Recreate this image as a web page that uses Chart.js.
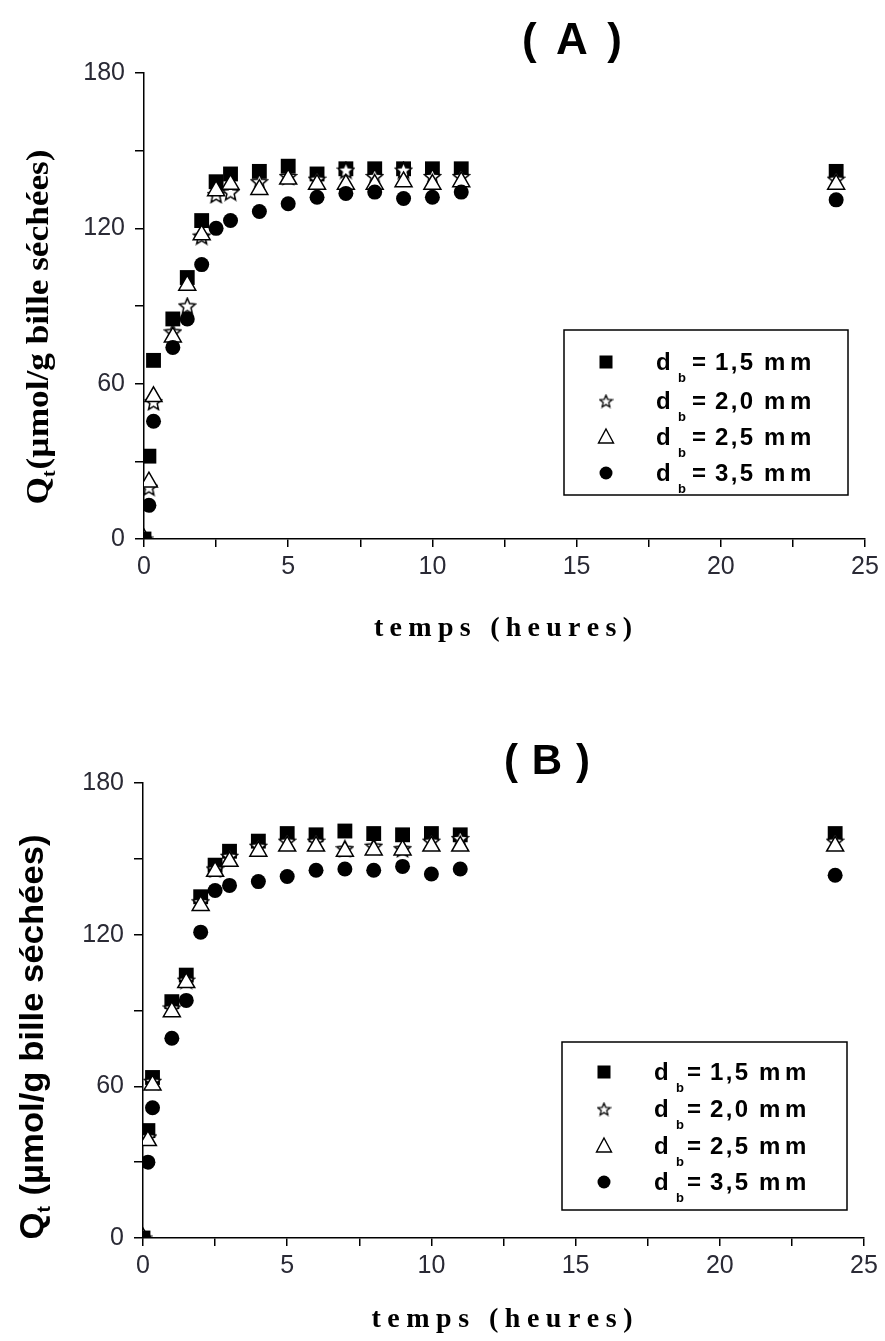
<!DOCTYPE html>
<html>
<head>
<meta charset="utf-8">
<script src="https://cdn.jsdelivr.net/npm/chart.js@4.4.0/dist/chart.umd.min.js"></script>
<style>
  html, body { margin: 0; padding: 0; background: #fff; }
  canvas { position: absolute; left: 0; }
  #chartA { top: 0; }
  #chartB { top: 690px; }
</style>
</head>
<body>
<canvas id="chartA" width="885" height="670"></canvas>
<canvas id="chartB" width="885" height="651"></canvas>
<script>
// temps (heures)
var temps = [0, 0.17, 0.33, 1, 1.5, 2, 2.5, 3, 4, 5, 6, 7, 8, 9, 10, 11, 24];

// panneau (A)
var a_d15 = [0, 32, 69, 85, 101, 123, 138, 141, 142, 144, 141, 143, 143, 143, 143, 143, 142];
var a_d20 = [0, 20, 53, 80, 90, 117, 133, 134, 138, 140, 139, 142.5, 140, 142.5, 140, 140, 139];
var a_d25 = [0, 22, 55, 78, 98, 117.5, 134.5, 137, 135, 139, 137, 137, 137, 138, 137, 138, 137];
var a_d35 = [0, 13, 45.5, 74, 85, 106, 120, 123, 126.5, 129.5, 132, 133.5, 134, 131.5, 132, 134, 131];

// panneau (B)
var b_d15 = [0, 42.5, 63.5, 93.5, 104, 135, 147.5, 153, 157, 160, 159.5, 161, 160, 159.5, 160, 159.5, 160];
var b_d20 = [0, 40, 62, 91, 102, 133, 146, 151, 155, 157, 157, 154, 155, 154, 157, 158, 157];
var b_d25 = [0, 38.5, 60.5, 89.5, 101, 131.5, 145, 149, 153, 155, 155, 153, 153.5, 153.5, 155, 155, 155];
var b_d35 = [0, 30, 51.5, 79, 94, 121, 137.5, 139.5, 141, 143, 145.5, 146, 145.5, 147, 144, 146, 143.5];

var diametres = ['1,5', '2,0', '2,5', '3,5'];
var xTickLabels = [0, 5, 10, 15, 20, 25];
var yTickLabels = [0, 60, 120, 180];

function makeStar(size, lw) {
  var c = document.createElement('canvas');
  c.width = size; c.height = size;
  var g = c.getContext('2d');
  var cx = size / 2, cy = size / 2 + 0.7, R = size / 2 - 1, r = R * 0.45;
  g.beginPath();
  for (var i = 0; i < 10; i++) {
    var ang = -Math.PI / 2 + i * Math.PI / 5;
    var rad = i % 2 === 0 ? R : r;
    g.lineTo(cx + rad * Math.cos(ang), cy + rad * Math.sin(ang));
  }
  g.closePath();
  g.fillStyle = '#fff'; g.fill();
  g.lineWidth = lw; g.strokeStyle = '#000'; g.stroke();
  return c;
}
var starBig = makeStar(19, 1.5);
var starSmall = makeStar(15, 1.3);

function pts(vals) {
  return temps.map(function(t, i) { return { x: t, y: vals[i] }; });
}

function makeDatasets(v15, v20, v25, v35) {
  return [
    { label: '1,5', data: pts(v15), pointStyle: 'rect', pointRadius: 10.5, backgroundColor: '#000', borderColor: '#000', borderWidth: 0, order: 4 },
    { label: '2,0', data: pts(v20), pointStyle: starBig, pointRadius: 9, backgroundColor: '#fff', borderColor: '#000', borderWidth: 0, order: 3 },
    { label: '2,5', data: pts(v25), pointStyle: 'triangle', pointRadius: 9.8, backgroundColor: '#fff', borderColor: '#000', borderWidth: 1.5, order: 2 },
    { label: '3,5', data: pts(v35), pointStyle: 'circle', pointRadius: 7.5, backgroundColor: '#000', borderColor: '#000', borderWidth: 0, order: 1 }
  ].map(function(d) { d.showLine = false; d.clip = 0; d.pointHoverRadius = d.pointRadius; return d; });
}

// texte avec espacement reparti sur une largeur donnee
function spaced(ctx, str, cx, y, width) {
  var chars = Array.from(str);
  var ws = chars.map(function(c) { return ctx.measureText(c).width; });
  var nat = ws.reduce(function(a, b) { return a + b; }, 0);
  var extra = chars.length > 1 ? (width - nat) / (chars.length - 1) : 0;
  var x = cx - width / 2;
  ctx.textAlign = 'left';
  chars.forEach(function(c, i) { ctx.fillText(c, x, y); x += ws[i] + extra; });
}

function legendMarker(ctx, k, x, y) {
  ctx.fillStyle = '#000'; ctx.strokeStyle = '#000';
  if (k === 0) {
    ctx.fillRect(x - 6.5, y - 6.5, 13, 13);
  } else if (k === 1) {
    ctx.drawImage(starSmall, x - 7.5, y - 7.5);
  } else if (k === 2) {
    ctx.beginPath();
    ctx.moveTo(x, y - 8); ctx.lineTo(x + 7.5, y + 6); ctx.lineTo(x - 7.5, y + 6); ctx.closePath();
    ctx.fillStyle = '#fff'; ctx.fill(); ctx.lineWidth = 1.4; ctx.stroke();
  } else {
    ctx.beginPath(); ctx.arc(x, y, 6.5, 0, Math.PI * 2); ctx.fill();
  }
}

var decor = {
  id: 'decor',
  afterDraw: function(chart, args, o) {
    var ctx = chart.ctx;
    ctx.save();
    ctx.fillStyle = '#000';

    // titre du panneau
    ctx.font = 'bold ' + o.titleSize + 'px "Liberation Sans", Arial, sans-serif';
    ctx.textBaseline = 'middle';
    spaced(ctx, o.title, o.titleX, o.titleY, o.titleW);

    // titre axe x
    ctx.font = 'bold 28px "Liberation Serif", "Times New Roman", serif';
    ctx.textBaseline = 'alphabetic';
    spaced(ctx, 'temps (heures)', o.xtX, o.xtY, o.xtW);

    // titre axe y (Q indice t)
    var fam = o.ySerif ? '"Liberation Serif", "Times New Roman", serif' : '"Liberation Sans", Arial, sans-serif';
    var big = 'bold ' + o.ySize + 'px ' + fam;
    var small = 'bold ' + Math.round(o.ySize * 0.55) + 'px ' + fam;
    ctx.font = big; var w1 = ctx.measureText('Q').width; var w3 = ctx.measureText(o.yRest).width;
    ctx.font = small; var w2 = ctx.measureText('t').width + 1;
    var nat = w1 + w2 + w3;
    ctx.save();
    ctx.translate(o.ytX, o.ytY);
    ctx.rotate(-Math.PI / 2);
    ctx.scale(o.ytL / nat, 1);
    ctx.textAlign = 'left';
    var x0 = -nat / 2;
    ctx.font = big; ctx.fillText('Q', x0, 0);
    ctx.font = small; ctx.fillText('t', x0 + w1, o.ySize * 0.22);
    ctx.font = big; ctx.fillText(o.yRest, x0 + w1 + w2, 0);
    ctx.restore();

    // legende
    var L = o.legend;
    ctx.lineWidth = 1.5; ctx.strokeStyle = '#000';
    ctx.strokeRect(L.x, L.y, L.w, L.h);
    for (var k = 0; k < diametres.length; k++) {
      var ry = L.y + L.rows[k];
      legendMarker(ctx, k, L.x + 42, ry);
      ctx.fillStyle = '#000';
      ctx.textAlign = 'left';
      ctx.font = 'bold 24px "Liberation Sans", Arial, sans-serif';
      var bl = ry + 8;
      ctx.fillText('d', L.x + 92, bl);
      ctx.fillText('=', L.x + L.eq, bl);
      spaced(ctx, diametres[k], L.x + L.eq + 42, bl, 38);
      ctx.fillText('m', L.x + L.eq + 72, bl);
      ctx.fillText('m', L.x + L.eq + 98, bl);
      ctx.font = 'bold 13px "Liberation Sans", Arial, sans-serif';
      ctx.fillText('b', L.x + 114, bl + 12);
    }
    ctx.restore();
  }
};

function axisOptions(xHeight, yWidth) {
  var tickFont = { family: '"Liberation Sans", Arial, sans-serif', size: 25 };
  return {
    x: {
      type: 'linear', min: 0, max: 25,
      afterFit: function(s) { s.height = xHeight; },
      ticks: {
        stepSize: 2.5, autoSkip: false, maxRotation: 0, padding: 5, color: '#2a2a35', font: tickFont,
        callback: function(v) { return xTickLabels.indexOf(v) >= 0 ? String(v) : ''; }
      },
      grid: { drawOnChartArea: false, drawTicks: true, tickLength: 8, color: '#000', lineWidth: 1.5 },
      border: { color: '#000', width: 1.5 }
    },
    y: {
      type: 'linear', min: 0, max: 180,
      afterFit: function(s) { s.width = yWidth; },
      ticks: {
        stepSize: 30, padding: 10, color: '#2a2a35', font: tickFont,
        callback: function(v) { return yTickLabels.indexOf(v) >= 0 ? String(v) : ''; }
      },
      grid: { drawOnChartArea: false, drawTicks: true, tickLength: 9, color: '#000', lineWidth: 1.5 },
      border: { color: '#000', width: 1.5 }
    }
  };
}

new Chart(document.getElementById('chartA').getContext('2d'), {
  type: 'scatter',
  data: { datasets: makeDatasets(a_d15, a_d20, a_d25, a_d35) },
  options: {
    responsive: false, animation: false, devicePixelRatio: 1,
    layout: { padding: { left: 0, top: 73, right: 20, bottom: 0 } },
    scales: axisOptions(131, 144),
    plugins: {
      legend: { display: false }, tooltip: { enabled: false },
      decor: {
        title: '(A)', titleSize: 44, titleX: 572, titleY: 42, titleW: 100,
        xtX: 503, xtY: 636, xtW: 258,
        ySerif: true, ySize: 32, yRest: '(µmol/g bille séchées)', ytX: 48, ytY: 327, ytL: 355,
        legend: { x: 564, y: 330, w: 284, h: 165, rows: [32, 71, 107, 143], eq: 128 }
      }
    }
  },
  plugins: [decor]
});

new Chart(document.getElementById('chartB').getContext('2d'), {
  type: 'scatter',
  data: { datasets: makeDatasets(b_d15, b_d20, b_d25, b_d35) },
  options: {
    responsive: false, animation: false, devicePixelRatio: 1,
    layout: { padding: { left: 0, top: 93, right: 21, bottom: 0 } },
    scales: axisOptions(103, 143),
    plugins: {
      legend: { display: false }, tooltip: { enabled: false },
      decor: {
        title: '(B)', titleSize: 42, titleX: 547, titleY: 72, titleW: 86,
        xtX: 502, xtY: 637, xtW: 261,
        ySerif: false, ySize: 34, yRest: ' (µmol/g bille séchées)', ytX: 43, ytY: 347, ytL: 405,
        legend: { x: 562, y: 352, w: 285, h: 168, rows: [30, 67, 104, 140], eq: 125 }
      }
    }
  },
  plugins: [decor]
});
</script>
</body>
</html>
